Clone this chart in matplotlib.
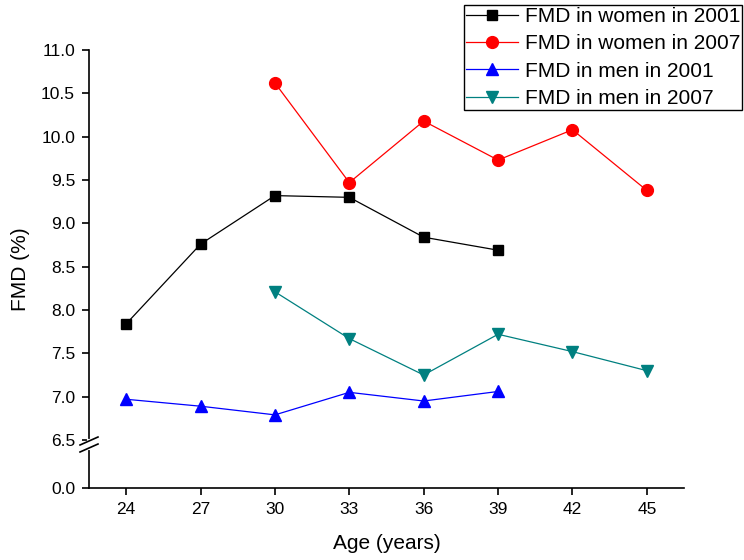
import numpy as np
import matplotlib.pyplot as plt
from matplotlib.scale import FuncScale

plt.rcParams['font.family'] = ['Liberation Sans', 'DejaVu Sans']

# Данные
ages = [24, 27, 30, 33, 36, 39, 42, 45]

women_2001_age = [24, 27, 30, 33, 36, 39]
women_2001 = [7.84, 8.76, 9.32, 9.30, 8.84, 8.69]

women_2007_age = [30, 33, 36, 39, 42, 45]
women_2007 = [10.62, 9.47, 10.18, 9.73, 10.08, 9.38]

men_2001_age = [24, 27, 30, 33, 36, 39]
men_2001 = [6.97, 6.89, 6.79, 7.05, 6.95, 7.06]

men_2007_age = [30, 33, 36, 39, 42, 45]
men_2007 = [8.21, 7.67, 7.25, 7.72, 7.52, 7.30]

y_ticks = [0.0, 6.5, 7.0, 7.5, 8.0, 8.5, 9.0, 9.5, 10.0, 10.5, 11.0]

# Разрыв оси: всё ниже 6.5 сжимается
BRK = 6.5
K = 0.0852


def fwd(y):
    y = np.asarray(y, dtype=float)
    return np.where(y >= BRK, y, BRK - (BRK - y) * K)


def inv(y):
    y = np.asarray(y, dtype=float)
    return np.where(y >= BRK, y, BRK - (BRK - y) / K)


fig = plt.figure(figsize=(7.44, 5.6), dpi=100)
ax = fig.add_axes([89 / 744, 72 / 560, 595 / 744, 438 / 560])
ax.set_yscale(FuncScale(ax.yaxis, (fwd, inv)))

ax.plot(women_2001_age, women_2001, color='black', marker='s', ms=7.5, lw=0.9,
        label='FMD in women in 2001')
ax.plot(women_2007_age, women_2007, color='red', marker='o', ms=8.5, lw=0.9,
        label='FMD in women in 2007')
ax.plot(men_2001_age, men_2001, color='blue', marker='^', ms=9, lw=0.9,
        label='FMD in men in 2001')
ax.plot(men_2007_age, men_2007, color='#008080', marker='v', ms=9, lw=0.9,
        label='FMD in men in 2007')

ax.set_xlim(22.5, 46.5)
ax.set_ylim(0, 11)
ax.set_xticks(ages)
ax.set_yticks(y_ticks)
ax.set_yticklabels(['%.1f' % v for v in y_ticks])
ax.minorticks_off()

for s in ['top', 'right']:
    ax.spines[s].set_visible(False)
for s in ['left', 'bottom']:
    ax.spines[s].set_linewidth(1.2)
ax.tick_params(direction='out', length=5, width=1.2, labelsize=12.5, pad=5)

ax.set_xlabel('Age (years)', fontsize=15, labelpad=12)
ax.set_ylabel('FMD (%)', fontsize=15, labelpad=8)

# Значки разрыва на оси Y
y1, y2 = 0.1073, 0.0913
ax.plot([0, 0], [y2, y1], transform=ax.transAxes, color='white', lw=3,
        clip_on=False, zorder=5)
dx, dy = 0.0151, 0.0091
for yc in (y1, y2):
    ax.plot([-dx, dx], [yc - dy, yc + dy], transform=ax.transAxes,
            color='black', lw=1.2, clip_on=False, zorder=6)

leg = fig.legend(loc='upper right', bbox_to_anchor=(742 / 744, 1 - 5 / 560),
                 fontsize=15, frameon=True, fancybox=False, edgecolor='black',
                 framealpha=1, borderpad=0.1, labelspacing=0.4,
                 handlelength=2.5, handletextpad=0.3, borderaxespad=0)
leg.get_frame().set_linewidth(1.0)

fig.savefig('out.png', dpi=100)
